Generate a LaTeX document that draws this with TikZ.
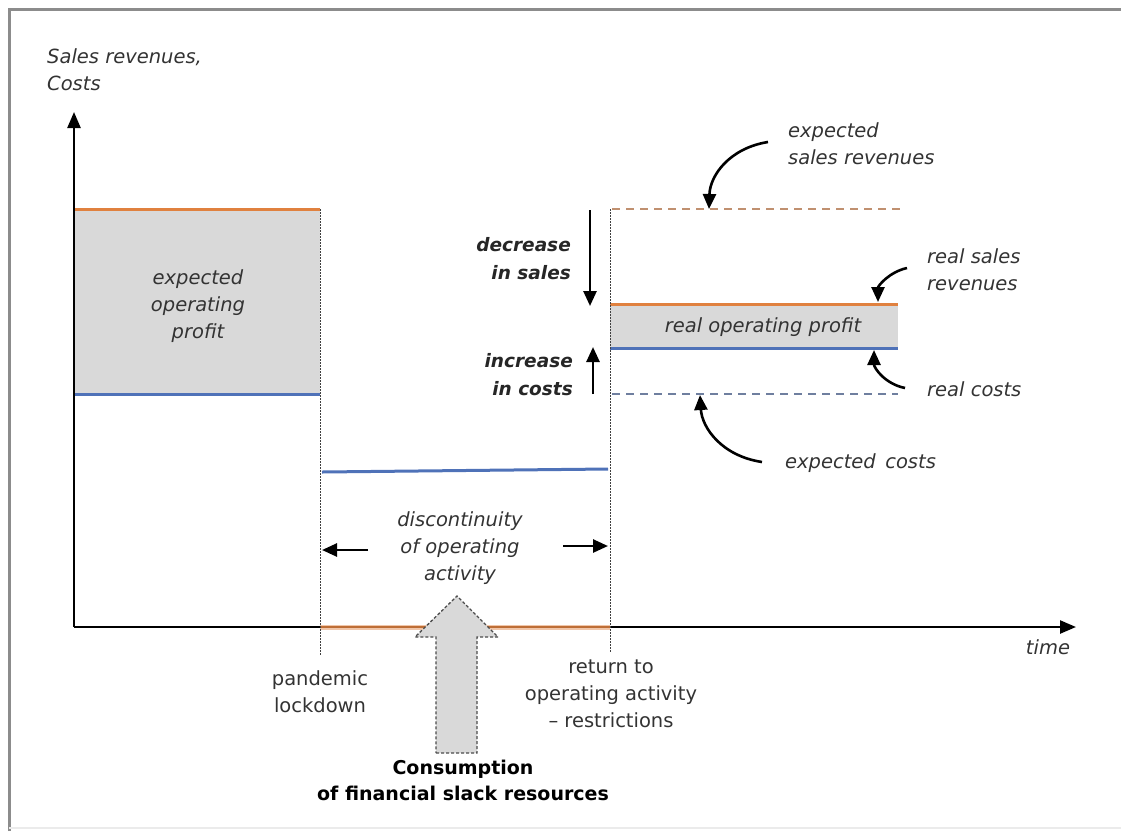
\documentclass[tikz,border=0pt]{standalone}
\usepackage{fontspec}
\setmainfont{DejaVu Sans}
\usetikzlibrary{arrows.meta}
\definecolor{txt}{HTML}{333333}
\definecolor{org}{HTML}{E0813F}
\definecolor{blu}{HTML}{4F72B8}
\definecolor{fillg}{HTML}{D9D9D9}
\definecolor{dashorg}{HTML}{C09070}
\definecolor{dashblu}{HTML}{6F7F9F}
\tikzset{
  lab/.style={text=txt, font=\fontsize{19.5}{27}\selectfont\itshape, inner sep=0pt},
  boldlab/.style={text=black!85, font=\fontsize{18.5}{28}\selectfont\bfseries\itshape, inner sep=0pt, align=right},
  plainlab/.style={text=txt, font=\fontsize{19.5}{27}\selectfont, inner sep=0pt, align=center},
  axis/.style={line width=2.4pt, black, -{Triangle[length=16pt,width=13pt]}},
  orgline/.style={line width=3pt, org},
  bluline/.style={line width=3pt, blu},
  vdot/.style={line width=1pt, black!75, dash pattern=on 1.5pt off 1.5pt},
  dashO/.style={line width=1.8pt, dashorg, dash pattern=on 8pt off 6pt},
  dashB/.style={line width=1.8pt, dashblu, dash pattern=on 8pt off 6pt},
  straw/.style={line width=2.6pt, black, -{Triangle[length=15pt,width=13pt]}},
  curvy/.style={line width=2.6pt, black, -{Triangle[length=15pt,width=13pt]}},
}
\begin{document}
\begin{tikzpicture}[x=1pt,y=-1pt]
\useasboundingbox (0,0) rectangle (1121,831);
% frame
\draw[line width=3pt, black!45] (9,831) -- (9,9) -- (1121,9);
\draw[line width=1.5pt, black!8] (9,828) -- (1121,828);

% key coordinates
\coordinate (O) at (74,627);
\coordinate (Ytop) at (74,112);
\coordinate (Xend) at (1076,627);
\coordinate (L1) at (320,209);
\coordinate (L2) at (320,655);
\coordinate (R1) at (610,209);
\coordinate (R2) at (610,652);

% left block
\fill[fillg] (74,209) rectangle (320,394);
\draw[orgline] (74,209) -- (320,209);
\draw[bluline] (74,394) -- (320,394);

% right block
\fill[fillg] (610,304) rectangle (898,348);
\draw[orgline] (610,304) -- (898,304);
\draw[bluline] (610,348) -- (898,348);
\draw[dashO] (612,209) -- (900,209);
\draw[dashB] (612,394) -- (898,394);

% middle
\draw[bluline] (322,472) -- (608,469);
\draw[line width=5pt, org!45] (320,627) -- (610,627);

% axes
\draw[axis] (O) -- (Ytop);
\draw[axis] (O) -- (Xend);
\draw[line width=2.5pt, org!85!black] (320,627) -- (610,627);

% vertical dotted lines
\draw[vdot] (L1) -- (L2);
\draw[vdot] (R1) -- (R2);

% big gray dashed arrow
\draw[fill=fillg, draw=black!70, line width=1.3pt, dash pattern=on 3pt off 2pt]
  (436,753) -- (477,753) -- (477,637) -- (498,637) -- (457,596) -- (415,637) -- (436,637) -- cycle;

% straight arrows
\coordinate (ds1) at (590,210); \coordinate (ds2) at (590,306);
\coordinate (ic1) at (593,394); \coordinate (ic2) at (593,347);
\draw[straw] (ds1) -- (ds2);
\draw[straw] (ic1) -- (ic2);
\coordinate (dl1) at (368,550); \coordinate (dl2) at (322,550);
\coordinate (dr1) at (563,546); \coordinate (dr2) at (608,546);
\draw[straw] (dl1) -- (dl2);
\draw[straw] (dr1) -- (dr2);

% curved arrows
\coordinate (es1) at (768,142); \coordinate (es2) at (709,209);
\draw[curvy] (es1) .. controls (730,148) and (710,175) .. (es2);
\coordinate (rs1) at (907,268); \coordinate (rs2) at (878,302);
\draw[curvy] (rs1) .. controls (889,272) and (878,286) .. (rs2);
\coordinate (rc1) at (905,388); \coordinate (rc2) at (874,350);
\draw[curvy] (rc1) .. controls (885,384) and (874,368) .. (rc2);
\coordinate (ec1) at (762,462); \coordinate (ec2) at (700,395);
\draw[curvy] (ec1) .. controls (722,456) and (702,428) .. (ec2);

% labels
\node[lab, anchor=west, align=left] (ylab) at (47,70) {Sales revenues,\\Costs};
\node[lab] (tlab) at (1048,647) {time};
\node[lab, align=center] (eop) at (198,306) {expected\\operating\\profit};
\node[lab] (rop) at (763,327) {real operating profit};
\node[boldlab, anchor=east] (dec) at (571,259) {decrease\\in sales};
\node[boldlab, anchor=east] (inc) at (573,375) {increase\\in costs};
\node[lab, anchor=west, align=left] (esr) at (788,144) {expected\\sales revenues};
\node[lab, anchor=west, align=left] (rsr) at (927,270) {real sales\\revenues};
\node[lab, anchor=west] (rc) at (927,389) {real costs};
\node[lab, anchor=west] (ec) at (785,463) {expected\, costs};
\node[lab, align=center] (disc) at (460,548) {discontinuity\\of operating\\activity};
\node[plainlab] (pl) at (320,692) {pandemic\\lockdown};
\node[plainlab] (ret) at (611,694) {return to\\operating activity\\– restrictions};
\node[text=black, font=\fontsize{19}{26}\selectfont\bfseries, inner sep=0pt, align=center] (cons) at (463,780) {Consumption\\of financial slack resources};
\end{tikzpicture}
\end{document}
